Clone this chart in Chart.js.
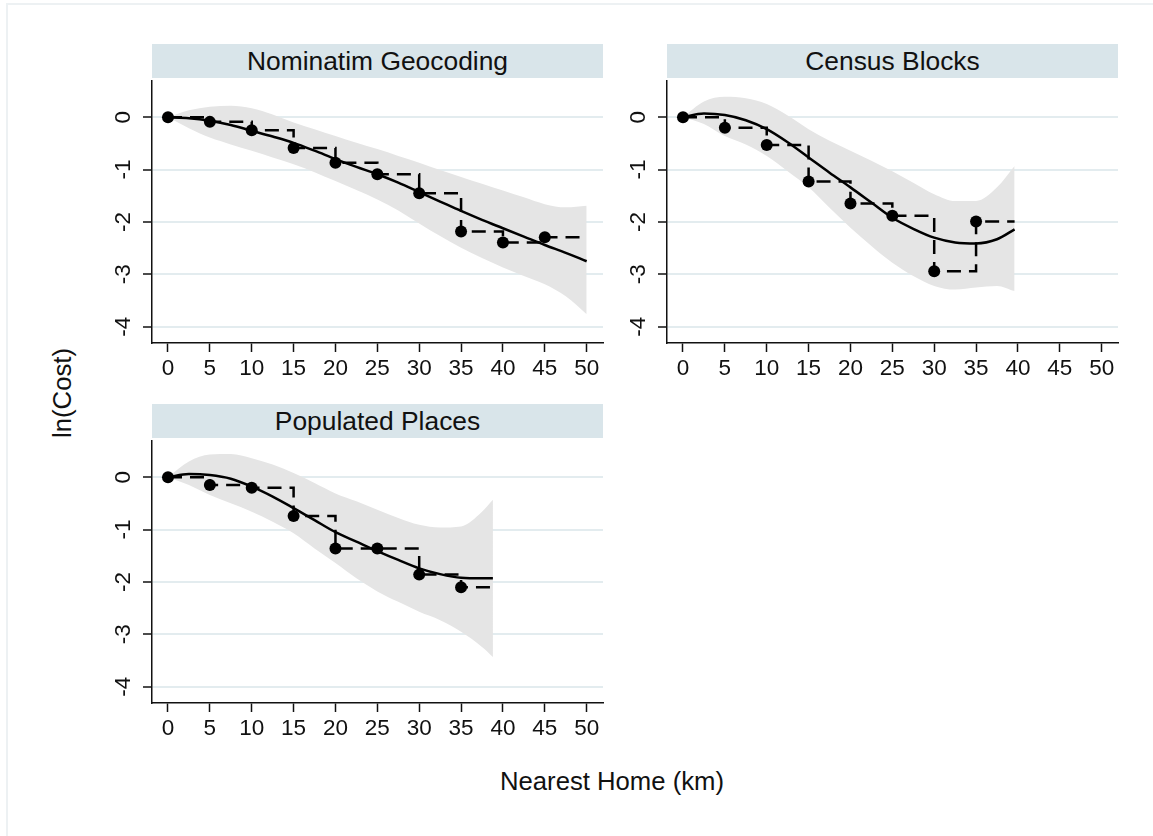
<!DOCTYPE html>
<html lang="en">
<head>
<meta charset="UTF-8">
<title>ln(Cost) by Nearest Home</title>
<script src="https://cdn.jsdelivr.net/npm/chart.js"></script>
<style>
  body { margin: 0; background: #fff; font-family: "Liberation Sans", Arial, sans-serif; }
  #page { position: relative; width: 1153px; height: 836px; overflow: hidden; }
  #frame { position: absolute; left: 6px; top: 3px; width: 1160px; height: 840px;
           border-top: 2px solid #edf1f3; border-left: 2px solid #edf1f3; }
  .bar { position: absolute; height: 34px; width: 451px; background: #d9e5ea;
         color: #111; font-size: 26.4px; line-height: 34px; text-align: center; }
  canvas { position: absolute; }
  .ytitle { position: absolute; left: 62px; top: 393px; font-size: 25.7px; color: #111;
            transform: translate(-50%, -50%) rotate(-90deg); white-space: nowrap; }
  .xtitle { position: absolute; left: 612px; top: 781px; font-size: 25.7px; color: #111;
            transform: translate(-50%, -50%); white-space: nowrap; }
</style>
</head>
<body>
<div id="page">
  <div id="frame"></div>
  <div class="bar" style="left:152px; top:44px;">Nominatim Geocoding</div>
  <div class="bar" style="left:667px; top:44px;">Census Blocks</div>
  <div class="bar" style="left:152px; top:404px;">Populated Places</div>
  <canvas id="c1" width="520" height="318" style="left:100px; top:75px;"></canvas>
  <canvas id="c2" width="520" height="318" style="left:615px; top:75px;"></canvas>
  <canvas id="c3" width="520" height="318" style="left:100px; top:435px;"></canvas>
  <div class="ytitle">ln(Cost)</div>
  <div class="xtitle">Nearest Home (km)</div>
</div>

<script>
// axis ticks
const xTicks = [0, 5, 10, 15, 20, 25, 30, 35, 40, 45, 50];
const yTicks = [0, -1, -2, -3, -4];

// Nominatim Geocoding
const nomDist = [0, 5, 10, 15, 20, 25, 30, 35, 40, 45];
const nomCost = [0, -0.09, -0.25, -0.59, -0.87, -1.09, -1.45, -2.18, -2.39, -2.29];
const nomStepEnd = 49.2;
const nomFitX = [0, 2.5, 5, 7.5, 10, 12.5, 15, 17.5, 20, 22.5, 25, 27.5, 30, 32.5, 35, 37.5, 40, 42.5, 45, 47.5, 50];
const nomFit = [0, -0.02, -0.07, -0.15, -0.26, -0.37, -0.49, -0.64, -0.80, -0.95, -1.09, -1.25, -1.43, -1.61, -1.79, -1.96, -2.12, -2.28, -2.44, -2.59, -2.75];
const nomHi = [0, 0.13, 0.20, 0.22, 0.17, 0.05, -0.10, -0.23, -0.36, -0.49, -0.61, -0.74, -0.87, -1.01, -1.14, -1.27, -1.40, -1.53, -1.66, -1.72, -1.69];
const nomLo = [0, -0.21, -0.39, -0.52, -0.64, -0.77, -0.90, -1.05, -1.22, -1.39, -1.57, -1.78, -2.03, -2.27, -2.49, -2.69, -2.87, -3.03, -3.19, -3.42, -3.76];

// Census Blocks
const cbDist = [0, 5, 10, 15, 20, 25, 30, 35];
const cbCost = [0, -0.20, -0.53, -1.23, -1.65, -1.88, -2.94, -1.99];
const cbStepEnd = 39.6;
const cbFitX = [0, 2.5, 5, 7.5, 10, 12.5, 15, 17.5, 20, 22.5, 25, 27.5, 30, 32.5, 35, 37.5, 39.6];
const cbFit = [0, 0.07, 0.04, -0.06, -0.23, -0.48, -0.77, -1.06, -1.34, -1.63, -1.92, -2.13, -2.30, -2.39, -2.41, -2.33, -2.14];
const cbHi = [0, 0.30, 0.39, 0.36, 0.25, 0.03, -0.23, -0.45, -0.64, -0.83, -1.03, -1.25, -1.47, -1.60, -1.60, -1.34, -0.93];
const cbLo = [0, -0.13, -0.36, -0.52, -0.74, -1.03, -1.34, -1.73, -2.11, -2.46, -2.78, -3.03, -3.22, -3.29, -3.25, -3.22, -3.32];

// Populated Places
const ppDist = [0, 5, 10, 15, 20, 25, 30, 35];
const ppCost = [0, -0.15, -0.20, -0.74, -1.36, -1.36, -1.86, -2.10];
const ppStepEnd = 39.4;
const ppFitX = [0, 2.5, 5, 7.5, 10, 12.5, 15, 17.5, 20, 22.5, 25, 27.5, 30, 32.5, 35, 37.5, 38.8];
const ppFit = [0, 0.06, 0.04, -0.03, -0.18, -0.37, -0.59, -0.82, -1.05, -1.23, -1.41, -1.58, -1.74, -1.85, -1.92, -1.93, -1.93];
const ppHi = [0, 0.30, 0.43, 0.44, 0.36, 0.24, 0.08, -0.11, -0.31, -0.46, -0.62, -0.78, -0.91, -0.96, -0.94, -0.66, -0.43];
const ppLo = [0, -0.15, -0.34, -0.50, -0.66, -0.85, -1.07, -1.36, -1.64, -1.93, -2.18, -2.38, -2.57, -2.73, -2.95, -3.24, -3.43];

const FONT = '"Liberation Sans", Arial, sans-serif';

function pairs(xs, ys) {
  return xs.map((x, i) => ({ x: x, y: ys[i] }));
}

// draw the rotated y tick labels (Stata style)
const rotatedY = {
  id: 'rotatedY',
  afterDraw(chart) {
    const s = chart.scales.y;
    const ctx = chart.ctx;
    ctx.save();
    ctx.fillStyle = '#111';
    ctx.font = '22.5px ' + FONT;
    ctx.textAlign = 'center';
    ctx.textBaseline = 'alphabetic';
    yTicks.forEach(v => {
      ctx.save();
      ctx.translate(s.right - 22, s.getPixelForValue(v));
      ctx.rotate(-Math.PI / 2);
      ctx.fillText(String(v), 0, 0);
      ctx.restore();
    });
    ctx.restore();
  }
};

function makePanel(id, dist, cost, stepEnd, fitX, fit, hi, lo) {
  const stepPts = pairs(dist, cost);
  stepPts.push({ x: stepEnd, y: cost[cost.length - 1] });

  new Chart(document.getElementById(id), {
    type: 'line',
    data: {
      datasets: [
        { data: pairs(fitX, lo), borderWidth: 0, pointRadius: 0, fill: false,
          cubicInterpolationMode: 'monotone', order: 5 },
        { data: pairs(fitX, hi), borderWidth: 0, pointRadius: 0, fill: '-1',
          backgroundColor: '#e5e5e5', cubicInterpolationMode: 'monotone', order: 5 },
        { data: stepPts, stepped: 'before', borderColor: '#000', borderWidth: 2.5,
          borderDash: [14, 8], pointRadius: 0, fill: false, order: 3 },
        { data: pairs(fitX, fit), borderColor: '#000', borderWidth: 2.5, pointRadius: 0,
          fill: false, cubicInterpolationMode: 'monotone', order: 2 },
        { data: pairs(dist, cost), showLine: false, pointRadius: 6, pointHoverRadius: 6,
          backgroundColor: '#000', borderColor: '#000', borderWidth: 0, order: 1 }
      ]
    },
    options: {
      responsive: false,
      animation: false,
      events: [],
      layout: { padding: { left: 43, right: 17, top: 2, bottom: 8 } },
      plugins: { legend: { display: false }, tooltip: { enabled: false } },
      scales: {
        x: {
          type: 'linear',
          min: -1.91,
          max: 51.95,
          afterBuildTicks: s => { s.ticks = xTicks.map(v => ({ value: v })); },
          ticks: { color: '#111', font: { family: FONT, size: 22.5 }, padding: 3, maxRotation: 0 },
          grid: { drawOnChartArea: false, tickColor: '#111', tickLength: 9, tickWidth: 1.5 },
          border: { color: '#111', width: 1.5 }
        },
        y: {
          type: 'linear',
          min: -4.31,
          max: 0.69,
          afterBuildTicks: s => { s.ticks = yTicks.map(v => ({ value: v })); },
          ticks: { display: false },
          grid: { color: '#e3ecef', lineWidth: 2, tickColor: '#111', tickLength: 9, tickWidth: 1.5 },
          border: { color: '#111', width: 1.5 }
        }
      }
    },
    plugins: [rotatedY]
  });
}

makePanel('c1', nomDist, nomCost, nomStepEnd, nomFitX, nomFit, nomHi, nomLo);
makePanel('c2', cbDist, cbCost, cbStepEnd, cbFitX, cbFit, cbHi, cbLo);
makePanel('c3', ppDist, ppCost, ppStepEnd, ppFitX, ppFit, ppHi, ppLo);
</script>
</body>
</html>
